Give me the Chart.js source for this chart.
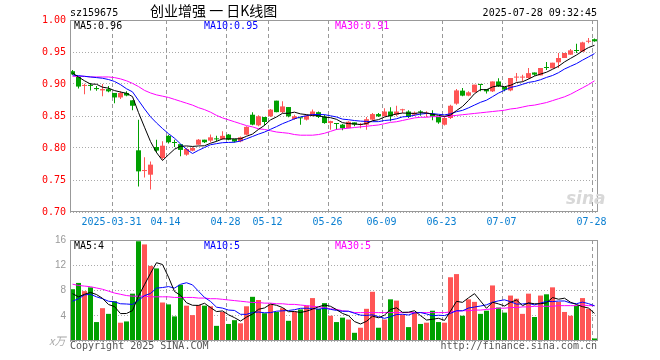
<!DOCTYPE html>
<html>
<head>
<meta charset="utf-8">
<script src="https://cdn.jsdelivr.net/npm/chart.js@4.4.0/dist/chart.umd.min.js"></script>
<style>
body { margin: 0; background: #fff; }
#wrap { position: relative; width: 660px; height: 360px; overflow: hidden; }
canvas { position: absolute; left: 0; top: 0; }
.t { position: absolute; font: 10px 'DejaVu Sans Mono', monospace; line-height: 10px; white-space: pre; }
</style>
</head>
<body>
<div id="wrap">
  <canvas id="priceChart" width="660" height="360"></canvas>
  <canvas id="volChart" width="660" height="360"></canvas>

  <div class="t" style="left:70px;top:8px">sz159675</div>
  <div class="t" style="left:150px;top:3px;font:14px 'Noto Sans CJK SC',sans-serif;line-height:14px">创业增强 一 日K线图</div>
  <div class="t" style="right:63px;top:8px">2025-07-28 09:32:45</div>

  <div class="t" style="left:74px;top:21px;color:#000">MA5:0.96</div>
  <div class="t" style="left:204px;top:21px;color:#0000ff">MA10:0.95</div>
  <div class="t" style="left:335px;top:21px;color:#ff00ff">MA30:0.91</div>

  <div class="t" style="left:74px;top:241px;color:#000">MA5:4</div>
  <div class="t" style="left:204px;top:241px;color:#0000ff">MA10:5</div>
  <div class="t" style="left:335px;top:241px;color:#ff00ff">MA30:5</div>

  <div class="t" style="left:49px;top:335px;color:#aaa;font:italic 11px 'Noto Sans CJK SC',sans-serif;line-height:11px">x万</div>
  <div class="t" style="left:70px;top:341px;color:#555">Copyright 2025 SINA.COM</div>
  <div class="t" style="right:63px;top:341px;color:#555">http://finance.sina.com.cn</div>

  <div class="t" style="left:566px;top:190px;color:#d8d8d8;font:italic bold 17px 'DejaVu Sans',sans-serif;line-height:17px">sina</div>
</div>

<script>
// daily candles, 2025-03-20 .. 2025-07-28 (88 trading days)
const opens = [
  .920, .911, .897, .898, .8937, .890, .892, .886, .879, .886,
  .8745, .7964, .764, .7583, .8016, .7844, .819, .8094, .806, .7896,
  .7958, .8052, .813, .8115, .8146, .814, .821, .814, .8104, .8208,
  .852, .8354, .8484, .8495, .874, .856, .864, .8453, .8474, .8443,
  .851, .856, .849, .839, .8385, .8365, .831, .840, .836, .8365,
  .8443, .853, .8495, .857, .852, .859, .857, .852, .8565, .8536,
  .8536, .8484, .8364, .8469, .8693, .8896, .8818, .887, .899, .8922,
  .8885, .904, .8953, .890, .910, .910, .9094, .918, .9135, .9255,
  .9245, .9339, .9406, .9458, .9526, .9505, .966, .970
];
const highs = [
  .922, .911, .9005, .9015, .897, .900, .897, .886, .8885, .8885,
  .8745, .844, .7855, .779, .813, .8104, .8208, .813, .806, .800,
  .8016, .814, .813, .821, .819, .826, .822, .814, .818, .834,
  .8557, .851, .8484, .861, .874, .873, .864, .852, .8474, .852,
  .860, .857, .852, .8427, .8385, .8375, .8417, .840, .839, .8484,
  .8547, .8547, .862, .8635, .866, .8615, .859, .857, .8589, .8573,
  .8589, .8484, .8484, .8677, .892, .8938, .8885, .899, .899, .8922,
  .904, .909, .8953, .9094, .917, .9146, .925, .918, .925, .9344,
  .9333, .9484, .9484, .9547, .963, .966, .972, .971
];
const lows = [
  .914, .893, .884, .890, .8895, .881, .887, .870, .8765, .881,
  .859, .740, .754, .735, .792, .782, .807, .8016, .787, .788,
  .7948, .8052, .808, .809, .810, .813, .812, .8085, .809, .820,
  .8354, .834, .835, .8484, .8557, .8547, .848, .844, .8365, .843,
  .8495, .847, .838, .8286, .8286, .8276, .831, .834, .831, .8286,
  .843, .8484, .8495, .8417, .8495, .8547, .847, .850, .8505, .8484,
  .8432, .838, .835, .8453, .8677, .8807, .8807, .887, .8885, .885,
  .8875, .8953, .8885, .8885, .904, .904, .9083, .913, .9135, .9219,
  .9245, .925, .9406, .9458, .9484, .9505, .9635, .966
];
const closes = [
  .915, .896, .898, .897, .892, .892, .8885, .879, .886, .882,
  .866, .7635, .765, .774, .796, .8036, .809, .8078, .797, .7984,
  .800, .813, .809, .8167, .8135, .819, .813, .810, .8167, .833,
  .8365, .8495, .8406, .860, .856, .865, .8495, .8495, .8464, .8505,
  .857, .8484, .839, .842, .8375, .831, .841, .8365, .8375, .845,
  .853, .8495, .857, .8495, .857, .860, .8484, .855, .8557, .855,
  .8495, .840, .8469, .866, .890, .8818, .887, .899, .8985, .8885,
  .904, .8964, .8911, .9094, .9104, .9104, .917, .9146, .925, .925,
  .9333, .9406, .9484, .9526, .9516, .965, .9667, .9667
];
const ma5 = [
  .917, .911, .905, .900, .8996, .895, .8935, .8897, .8875, .8855,
  .8803, .8553, .8325, .8101, .7929, .7804, .7895, .7981, .8027, .8032,
  .8024, .8032, .8035, .8074, .8104, .8142, .8142, .8144, .8144, .8183,
  .8218, .8291, .8353, .8439, .8485, .8542, .8542, .856, .8533, .8522,
  .8506, .8504, .8483, .8474, .8448, .8396, .8381, .8376, .8367, .8382,
  .8426, .8443, .8484, .8508, .8532, .8546, .8544, .854, .8552, .8548,
  .8527, .851, .8494, .8515, .8585, .8649, .8743, .8848, .8913, .891,
  .8954, .8973, .8957, .8979, .9023, .9035, .9077, .9124, .9155, .9184,
  .923, .9277, .9345, .94, .9453, .9516, .9569, .9605
];
const ma10 = [
  .914, .913, .912, .911, .910, .909, .907, .904, .899, .8926,
  .8877, .8744, .8611, .8488, .8392, .8304, .8224, .8153, .8064, .798,
  .7914, .7964, .8008, .8051, .8068, .8083, .8087, .809, .8109, .8144,
  .818, .8217, .8249, .8292, .8334, .838, .8417, .8456, .8486, .8504,
  .8524, .8523, .8521, .8503, .8485, .8451, .8442, .8429, .842, .8415,
  .8411, .8412, .843, .8438, .8457, .8486, .8493, .8512, .853, .854,
  .8537, .8527, .8517, .8534, .8567, .8588, .8627, .8671, .8714, .8747,
  .8802, .8858, .8902, .8946, .8966, .8995, .9025, .904, .9067, .9103,
  .9133, .9177, .9234, .9277, .9319, .9373, .9423, .9475
];
const ma30 = [
  .912, .912, .912, .911, .911, .911, .911, .910, .908, .905,
  .901, .896, .890, .886, .883, .881, .879, .876, .873, .870,
  .867, .863, .860, .856, .851, .847, .844, .841, .838, .835,
  .833, .830, .829, .827, .825, .824, .823, .821, .820, .820,
  .820, .821, .823, .826, .829, .830, .831, .832, .833, .834,
  .835, .836, .838, .840, .841, .843, .845, .847, .848, .848,
  .849, .849, .849, .850, .851, .852, .853, .854, .855, .856,
  .857, .858, .859, .861, .862, .864, .866, .867, .869, .871,
  .874, .877, .880, .884, .889, .894, .899, .905
];

// volume, x万
const volumes = [
  8.2, 9.2, 7.9, 8.5, 3.0, 5.2, 4.3, 6.3, 2.9, 3.1,
  7.5, 15.8, 15.3, 11.9, 11.5, 6.1, 5.8, 3.9, 8.9, 5.6,
  4.1, 5.7, 5.6, 5.5, 2.4, 4.6, 2.7, 3.3, 2.8, 5.5,
  7.0, 6.5, 4.4, 5.8, 4.6, 5.2, 3.2, 4.6, 5.0, 5.6,
  6.8, 5.1, 6.0, 4.0, 3.0, 3.7, 3.4, 1.3, 2.1, 5.1,
  7.8, 2.1, 3.4, 6.6, 6.4, 4.2, 2.2, 4.6, 2.7, 2.9,
  4.8, 3.0, 2.9, 10.1, 10.6, 4.0, 6.6, 6.2, 4.3, 4.8,
  8.8, 5.3, 4.5, 7.2, 6.7, 4.3, 7.5, 3.8, 7.2, 7.4,
  8.5, 6.2, 4.6, 4.0, 5.6, 6.8, 5.1, 0.4
];
const volMa5 = [
  7.5, 7.0, 7.4, 7.7, 7.36, 6.76, 5.78, 5.46, 4.34, 4.36,
  4.82, 7.12, 8.92, 10.72, 12.4, 12.12, 10.12, 7.84, 7.24, 6.06,
  5.66, 5.64, 5.98, 5.3, 4.66, 4.76, 4.16, 3.7, 3.16, 3.78,
  4.26, 5.02, 5.24, 5.84, 5.66, 5.3, 4.64, 4.68, 4.52, 4.72,
  5.04, 5.42, 5.7, 5.5, 4.98, 4.36, 4.02, 3.08, 2.7, 3.12,
  3.94, 3.68, 4.1, 5.0, 5.26, 4.54, 4.56, 4.8, 4.02, 3.32,
  3.44, 3.6, 3.26, 4.74, 6.28, 6.12, 6.84, 7.5, 6.34, 5.18,
  6.14, 5.88, 5.54, 6.12, 6.5, 5.6, 6.04, 5.9, 5.9, 6.04,
  6.88, 6.62, 6.78, 6.14, 5.78, 5.44, 5.22, 4.38
];
const volMa10 = [
  6.3, 6.7, 7.3, 7.4, 7.0, 6.7, 6.3, 6.2, 5.9, 5.86,
  5.79, 6.45, 7.19, 7.53, 8.38, 8.47, 8.62, 8.38, 8.98, 9.23,
  8.89, 7.88, 6.91, 6.27, 5.36, 5.21, 4.9, 4.84, 4.23, 4.22,
  4.51, 4.59, 4.47, 4.5, 4.72, 4.78, 4.83, 4.96, 5.18, 5.19,
  5.17, 5.03, 5.19, 5.01, 4.85, 4.7, 4.72, 4.39, 4.1, 4.05,
  4.15, 3.85, 3.59, 3.85, 4.19, 4.24, 4.12, 4.45, 4.51, 4.29,
  3.99, 4.08, 4.03, 4.38, 4.8, 4.78, 5.22, 5.38, 5.54, 5.73,
  6.13, 6.36, 6.52, 6.23, 5.84, 5.87, 5.96, 5.72, 6.01, 6.27,
  6.24, 6.33, 6.34, 6.02, 5.91, 6.16, 5.92, 5.58
];
const volMa30 = [
  9.0, 8.8, 8.7, 8.6, 8.4, 8.2, 7.9, 7.6, 7.4, 7.2,
  7.1, 7.1, 7.1, 7.0, 7.0, 7.0, 7.0, 6.9, 6.9, 6.9,
  6.9, 6.8, 6.8, 6.7, 6.7, 6.6, 6.5, 6.4, 6.3, 6.2,
  6.1, 6.1, 6.0, 6.0, 5.9, 5.9, 5.8, 5.8, 5.7, 5.6,
  5.5, 5.4, 5.3, 5.1, 5.0, 4.8, 4.7, 4.5, 4.5, 4.5,
  4.5, 4.5, 4.5, 4.5, 4.5, 4.5, 4.5, 4.5, 4.5, 4.5,
  4.5, 4.5, 4.5, 4.6, 4.7, 4.8, 4.8, 4.9, 4.9, 5.0,
  5.1, 5.2, 5.2, 5.3, 5.3, 5.4, 5.4, 5.5, 5.5, 5.5,
  5.5, 5.6, 5.6, 5.6, 5.6, 5.7, 5.6, 5.6
];

// x axis: index of the trading day each date label sits on
const tickIdx = [7, 16, 26, 33, 43, 52, 62, 72, 87];
const tickLabels = ['2025-03-31', '04-14', '04-28', '05-12', '05-26', '06-09', '06-23', '07-07', '07-28'];

const UP = '#ff5555';
const DOWN = '#00a000';
const mono = "'DejaVu Sans Mono', monospace";
const candleColors = closes.map((c, i) => c >= opens[i] ? UP : DOWN);
const xMin = -5 / 12;
const xMax = xMin + closes.length;

const pts = arr => arr.map((v, i) => ({ x: i, y: v }));

// dashed date lines (placed by the x scale) behind the marks
const dateGrid = {
    id: 'dateGrid',
    beforeDatasetsDraw(chart) {
        const { ctx, chartArea: a, scales: { x } } = chart;
        ctx.save();
        ctx.fillStyle = '#999';
        tickIdx.forEach(i => {
            const px = Math.round(x.getPixelForValue(i - 0.5));
            for (let y = a.top; y < a.bottom; y += 7) {
                ctx.fillRect(px, y, 1, Math.min(4, a.bottom - y));
            }
        });
        ctx.restore();
    }
};

// gray box round each plot area
const frame = {
    id: 'frame',
    afterDraw(chart) {
        const { ctx, chartArea: a } = chart;
        ctx.save();
        ctx.strokeStyle = '#999';
        ctx.lineWidth = 1;
        ctx.strokeRect(a.left + 0.5, a.top + 0.5, a.right - a.left - 1, a.bottom - a.top - 1);
        ctx.restore();
    }
};

const xAxis = (showLabels, height) => ({
    type: 'linear',
    min: xMin,
    max: xMax,
    offset: false,
    afterBuildTicks: s => { s.ticks = tickIdx.map(i => ({ value: i - 0.5 })); },
    afterFit: s => { s.height = height; },
    grid: { display: false, drawTicks: false, offset: false },
    border: { display: false },
    ticks: {
        display: showLabels,
        autoSkip: false,
        maxRotation: 0,
        padding: 4,
        color: '#0a7fd1',
        font: { family: mono, size: 10 },
        callback: (v, i) => tickLabels[i]
    }
});

const line = (data, color) => ({
    type: 'line',
    data: pts(data),
    borderColor: color,
    borderWidth: 1,
    pointRadius: 0,
    tension: 0,
    order: 0
});

const bar = (data, thickness, order) => ({
    type: 'bar',
    data: data,
    backgroundColor: candleColors,
    barThickness: thickness,
    grouped: false,
    minBarLength: 1,
    inflateAmount: 0,
    borderWidth: 0,
    order: order
});

const baseOptions = {
    responsive: false,
    animation: false,
    devicePixelRatio: 1,
    plugins: { legend: { display: false }, tooltip: { enabled: false } }
};

new Chart(document.getElementById('priceChart'), {
    data: {
        datasets: [
            line(ma5, '#000000'),
            line(ma10, '#0000ff'),
            line(ma30, '#ff00ff'),
            bar(closes.map((c, i) => ({ x: i, y: [opens[i], c] })), 5, 1),
            bar(closes.map((c, i) => ({ x: i, y: [lows[i], highs[i]] })), 1, 2)
        ]
    },
    options: {
        ...baseOptions,
        layout: { padding: { left: 0, right: 62, top: 20, bottom: 128 } },
        scales: {
            x: xAxis(true, 20),
            y: {
                min: 0.70,
                max: 1.00,
                afterFit: s => { s.width = 70; },
                grid: { color: '#aaa', drawTicks: false },
                border: { display: false, dash: [1, 2] },
                ticks: {
                    stepSize: 0.05,
                    padding: 4,
                    color: '#ff0000',
                    font: { family: mono, size: 10 },
                    callback: v => v.toFixed(2)
                }
            }
        }
    },
    plugins: [dateGrid, frame]
});

new Chart(document.getElementById('volChart'), {
    data: {
        datasets: [
            line(volMa5, '#000000'),
            line(volMa10, '#0000ff'),
            line(volMa30, '#ff00ff'),
            bar(volumes.map((v, i) => ({ x: i, y: v })), 5, 1)
        ]
    },
    options: {
        ...baseOptions,
        layout: { padding: { left: 0, right: 62, top: 240, bottom: 19 } },
        scales: {
            x: xAxis(false, 0),
            y: {
                min: 0,
                max: 16,
                afterFit: s => { s.width = 70; },
                grid: { color: '#aaa', drawTicks: false },
                border: { display: false, dash: [1, 2] },
                ticks: {
                    stepSize: 4,
                    padding: 4,
                    color: '#999',
                    font: { family: "'Liberation Sans', sans-serif", size: 10 },
                    callback: v => v === 0 ? '' : v
                }
            }
        }
    },
    plugins: [dateGrid, frame]
});
</script>
</body>
</html>
